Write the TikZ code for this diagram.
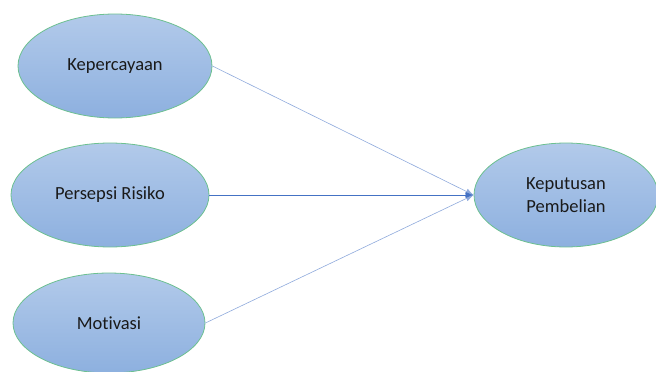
\documentclass[tikz,border=0pt]{standalone}
\usepackage{fontspec}
\setmainfont[Ligatures={NoCommon}]{Carlito}
\usetikzlibrary{shapes.geometric,arrows.meta}
\definecolor{filltop}{HTML}{B2CAEA}
\definecolor{fillbot}{HTML}{8DB0DF}
\definecolor{edge}{HTML}{6CC090}
\definecolor{lightline}{HTML}{8FAADC}
\definecolor{darkline}{HTML}{4472C4}
\definecolor{txt}{HTML}{1A1A1A}
\begin{document}
\begin{tikzpicture}[x=1pt,y=-1pt,
  var/.style={ellipse,draw=edge,line width=0.8pt,top color=filltop,bottom color=fillbot,
    inner sep=0pt,font=\fontsize{18.5}{23}\selectfont,text=txt,align=center},
  conn/.style={line width=0.6pt,-{Latex[length=8pt,width=6pt]}}]
\useasboundingbox (0,0) rectangle (656,372);
\node[var,minimum width=194pt,minimum height=104pt] (k) at (115,66) {Kepercayaan};
\node[var,minimum width=198pt,minimum height=104pt] (p) at (110,195) {Persepsi Risiko};
\node[var,minimum width=192pt,minimum height=100pt] (m) at (109,323) {Motivasi};
\node[var,minimum width=184pt,minimum height=104pt] (y) at (566,195) {Keputusan\\Pembelian};
\draw[conn,lightline] (k.east) -- (y.west);
\draw[conn,lightline] (m.east) -- (y.west);
\draw[conn,darkline] (p.east) -- (y.west);
\end{tikzpicture}
\end{document}
